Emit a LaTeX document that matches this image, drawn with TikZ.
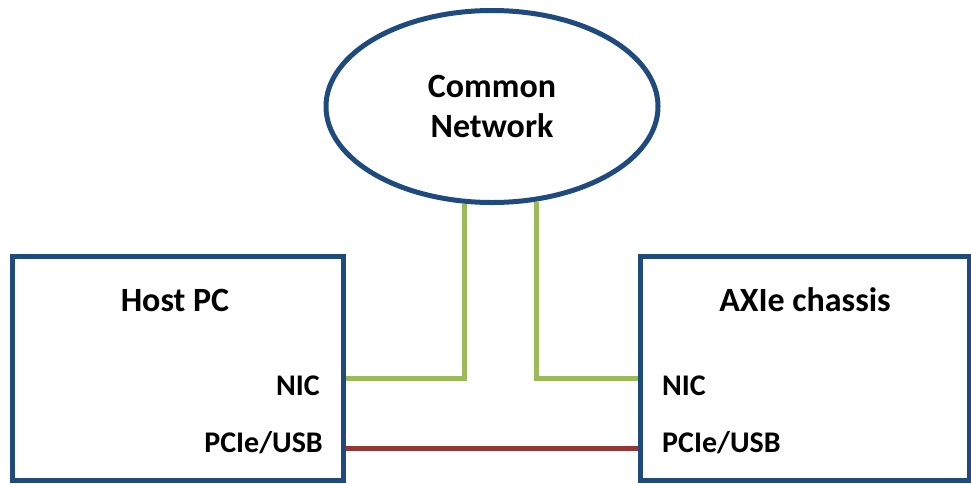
\documentclass[tikz,border=0pt]{standalone}
\usepackage{fontspec}
\setmainfont{Carlito}
\usetikzlibrary{shapes.geometric}
\definecolor{boxblue}{HTML}{1F4A7E}
\definecolor{netgreen}{HTML}{9BBB59}
\definecolor{linkred}{HTML}{953735}
\tikzset{
  unitbox/.style={draw=boxblue, line width=5pt, rectangle, inner sep=0pt},
  cloud/.style={draw=boxblue, line width=5pt, ellipse, inner sep=0pt,
    minimum width=332pt, minimum height=192pt, align=center,
    font=\bfseries\fontsize{34}{40}\selectfont},
  title/.style={font=\bfseries\fontsize{34}{40}\selectfont, inner sep=0pt},
  port/.style={font=\bfseries\fontsize{30}{36}\selectfont, inner sep=0pt},
  netline/.style={draw=netgreen, line width=5pt},
  pciline/.style={draw=linkred, line width=5pt}
}
\begin{document}
\begin{tikzpicture}[x=1pt,y=-1pt]
\useasboundingbox (0,0) rectangle (971,483);
\node[unitbox, minimum width=331pt, minimum height=224pt] (host) at (177.5,368) {};
\node[unitbox, minimum width=329pt, minimum height=224pt] (axie) at (804.5,368) {};
\node[cloud] (net) at (492,106.5) {Common\\Network};
\node[title] (hosttitle) at (175,300) {Host PC};
\node[title] (axietitle) at (805,300) {AXIe chassis};
\node[port, anchor=base east] (hnic) at (320,395) {NIC};
\node[port, anchor=base east] (hpci) at (323,452) {PCIe/USB};
\node[port, anchor=base west] (anic) at (662,395) {NIC};
\node[port, anchor=base west] (apci) at (662,452) {PCIe/USB};
\draw[netline] (net.254) |- (host.east |- 0,378);
\draw[netline] (net.295) |- (axie.west |- 0,378);
\draw[pciline] (host.east |- 0,448) -- (axie.west |- 0,448);
\end{tikzpicture}
\end{document}
